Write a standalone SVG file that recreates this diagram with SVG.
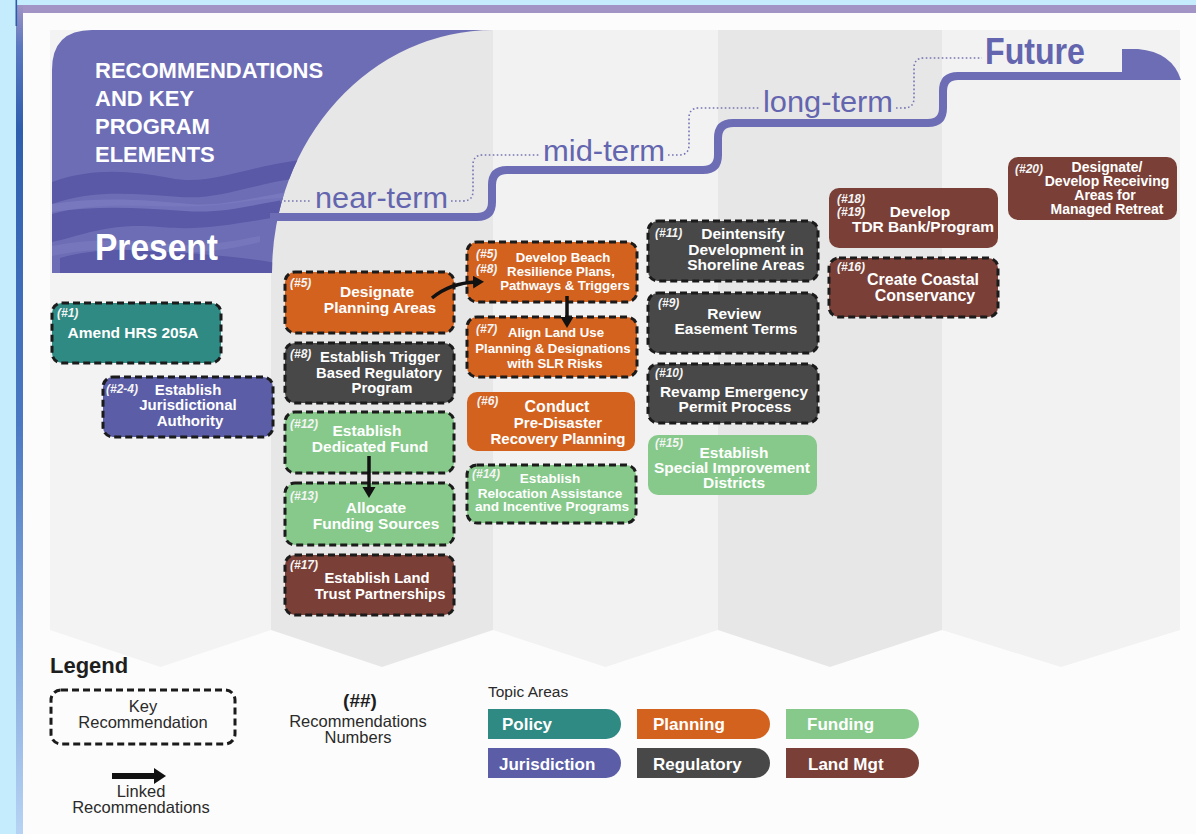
<svg xmlns="http://www.w3.org/2000/svg" width="1196" height="834" viewBox="0 0 1196 834">
<defs>
<linearGradient id="lstrip" x1="0" y1="0" x2="0" y2="1">
<stop offset="0" stop-color="#a094c4"/>
<stop offset="0.05" stop-color="#5a78c0"/>
<stop offset="0.15" stop-color="#2f5eae"/>
<stop offset="0.5" stop-color="#4a78c2"/>
<stop offset="1" stop-color="#b6d3f3"/>
</linearGradient>
<clipPath id="hclip"><path d="M52 70 Q52 30 92 30 H493 A221 243 0 0 0 272 273 H52 Z"/></clipPath>
<marker id="ah" markerWidth="14" markerHeight="14" refX="3" refY="6.5" orient="auto" markerUnits="userSpaceOnUse"><path d="M0,0 L11,6.5 L0,13 Z" fill="#111"/></marker>
<marker id="ahL" markerWidth="18" markerHeight="18" refX="3" refY="8" orient="auto" markerUnits="userSpaceOnUse"><path d="M0,0 L12,8 L0,16 Z" fill="#111"/></marker>
<style>
.f{font-family:"Liberation Sans",Arial,Helvetica,sans-serif}
.nb{font-family:"Liberation Sans",Arial,Helvetica,sans-serif;font-weight:bold;fill:#fff;text-anchor:middle}
.num{font-family:"Liberation Sans",Arial,Helvetica,sans-serif;font-weight:bold;font-style:italic;font-size:12px;fill:#f4f4f4}
.dash{stroke:#1b1b1b;stroke-width:3;stroke-dasharray:7 4}
.teal{fill:#2f8a83}.purp{fill:#5b5da7}.orng{fill:#d3621f}.gray{fill:#484848}.grn{fill:#86c98a}.brn{fill:#7a4037}
.term{font-family:"Liberation Sans",Arial,Helvetica,sans-serif;font-size:30px;fill:#6465af}
.dot{fill:none;stroke:#7676b4;stroke-width:1.6;stroke-dasharray:1.6 2.4}
.lg{font-family:"Liberation Sans",Arial,Helvetica,sans-serif;fill:#2a2a2a;text-anchor:middle;font-size:16.5px}
.pill{font-family:"Liberation Sans",Arial,Helvetica,sans-serif;font-weight:bold;font-size:17px;fill:#fff}
.lnk{stroke:#111;fill:none}
</style>
</defs>

<!-- page background -->
<rect x="0" y="0" width="1196" height="834" fill="#c5ecfc"/>
<rect x="16" y="5" width="1180" height="829" fill="#fcfcfc"/>
<rect x="16" y="5" width="1180" height="8" fill="#a294c4"/>
<rect x="16" y="5" width="7" height="829" fill="url(#lstrip)"/>
<rect x="15.5" y="0" width="1.6" height="26" fill="#2b5cab"/>

<!-- folded columns -->
<g id="columns">
<path d="M50 30 H271 V630 L160.5 667 L50 630 Z" fill="#f3f3f3"/>
<path d="M271 30 H493 V630 L382 667 L271 630 Z" fill="#e7e7e7"/>
<path d="M493 30 H718 V630 L605.5 667 L493 630 Z" fill="#f2f2f2"/>
<path d="M718 30 H942 V630 L830 667 L718 630 Z" fill="#e7e7e7"/>
<path d="M942 30 H1180 V630 L1061 667 L942 630 Z" fill="#f2f2f2"/>
</g>

<!-- header -->
<g id="header">
<path d="M52 70 Q52 30 92 30 H493 A221 243 0 0 0 272 273 H52 Z" fill="#6d6db6"/>
<g clip-path="url(#hclip)">
<path d="M52 182 C90 168 130 170 170 178 C210 186 240 168 300 160 L300 178 C250 184 220 200 180 197 C130 193 90 190 52 204 Z" fill="#5959a7"/>
<path d="M52 214 C100 200 150 208 200 206 C240 204 265 196 300 198 L300 214 C250 220 210 232 160 227 C110 222 80 236 52 242 Z" fill="#5959a7"/>
<path d="M52 204 C100 196 150 200 190 204 C220 207 250 198 300 190 L300 197 C255 204 225 214 185 211 C140 208 100 205 52 212 Z" fill="#7d7dc2" opacity="0.7"/>
<path d="M60 258 C100 246 150 250 200 254 C230 257 255 258 290 266 L290 273 L60 273 Z" fill="#5959a7"/>
<path d="M52 246 C90 238 130 240 170 244 C200 247 230 242 260 236 L260 242 C220 252 190 254 150 251 C110 248 80 250 52 256 Z" fill="#7d7dc2" opacity="0.6"/>
</g>
<text class="f" x="95" y="78" font-size="22" font-weight="bold" fill="#fff">RECOMMENDATIONS</text>
<text class="f" x="95" y="106" font-size="22" font-weight="bold" fill="#fff">AND KEY</text>
<text class="f" x="95" y="134" font-size="22" font-weight="bold" fill="#fff">PROGRAM</text>
<text class="f" x="95" y="162" font-size="22" font-weight="bold" fill="#fff">ELEMENTS</text>
<text class="f" x="95" y="260" font-size="36" font-weight="bold" fill="#fff" textLength="123" lengthAdjust="spacingAndGlyphs">Present</text>
</g>

<!-- timeline -->
<g id="timeline">
<path d="M270 217 H477 Q492 217 492 202 V185 Q492 170 507 170 H703 Q718 170 718 155 V138 Q718 123 733 123 H928 Q943 123 943 108 V91 Q943 76 958 76 H1125" fill="none" stroke="#6d6db6" stroke-width="8"/>
<path d="M1122 80 V49 H1138 Q1172 52 1181 80 Z" fill="#6d6db6"/>
<path class="dot" d="M280 201 H311"/>
<path class="dot" d="M451 201 H463 Q473 201 473 191 V165 Q473 155 483 155 H540"/>
<path class="dot" d="M668 155 H679 Q689 155 689 145 V118 Q689 108 699 108 H760"/>
<path class="dot" d="M896 108 H904 Q914 108 914 98 V68 Q914 58 924 58 H982"/>
<text class="term" x="315" y="208" textLength="133" lengthAdjust="spacingAndGlyphs">near-term</text>
<text class="term" x="543" y="161" textLength="122" lengthAdjust="spacingAndGlyphs">mid-term</text>
<text class="term" x="763" y="112" textLength="130" lengthAdjust="spacingAndGlyphs">long-term</text>
<text class="f" x="985" y="64" font-size="36" font-weight="bold" fill="#6465af" textLength="100" lengthAdjust="spacingAndGlyphs">Future</text>
</g>

<!-- nodes -->
<g id="n1">
<rect class="teal dash" x="52" y="303" width="169" height="60" rx="10"/>
<text class="num" x="57" y="317">(#1)</text>
<text class="nb" x="133" y="338" font-size="15.5">Amend HRS 205A</text>
</g>
<g id="n2-4">
<rect class="purp dash" x="103" y="377" width="170" height="60" rx="10"/>
<text class="num" x="106" y="393">(#2-4)</text>
<text class="nb" x="188" y="395" font-size="15">Establish</text>
<text class="nb" x="188" y="410" font-size="15">Jurisdictional</text>
<text class="nb" x="190" y="426" font-size="15">Authority</text>
</g>
<g id="n5">
<rect class="orng dash" x="285" y="272" width="169" height="61" rx="10"/>
<text class="num" x="290" y="287">(#5)</text>
<text class="nb" x="377" y="297" font-size="15.5">Designate</text>
<text class="nb" x="380" y="313" font-size="15.5">Planning Areas</text>
</g>
<g id="n8">
<rect class="gray dash" x="285" y="343" width="169" height="60" rx="10"/>
<text class="num" x="290" y="358">(#8)</text>
<text class="nb" x="380" y="362" font-size="14.8">Establish Trigger</text>
<text class="nb" x="379" y="378" font-size="14.8">Based Regulatory</text>
<text class="nb" x="382" y="393" font-size="14.8">Program</text>
</g>
<g id="n12">
<rect class="grn dash" x="285" y="412" width="169" height="61" rx="10"/>
<text class="num" x="290" y="428">(#12)</text>
<text class="nb" x="367" y="436" font-size="15.5">Establish</text>
<text class="nb" x="370" y="452" font-size="15.5">Dedicated Fund</text>
</g>
<g id="n13">
<rect class="grn dash" x="285" y="483" width="169" height="62" rx="10"/>
<text class="num" x="290" y="500">(#13)</text>
<text class="nb" x="376" y="513" font-size="15.5">Allocate</text>
<text class="nb" x="376" y="529" font-size="15.5">Funding Sources</text>
</g>
<g id="n17">
<rect class="brn dash" x="285" y="555" width="169" height="60" rx="10"/>
<text class="num" x="290" y="569">(#17)</text>
<text class="nb" x="377" y="583" font-size="14.8">Establish Land</text>
<text class="nb" x="380" y="599" font-size="14.8">Trust Partnerships</text>
</g>
<g id="n5-8">
<rect class="orng dash" x="467" y="242" width="170" height="60" rx="10"/>
<text class="num" x="476" y="258">(#5)</text>
<text class="num" x="476" y="273">(#8)</text>
<text class="nb" x="563" y="262" font-size="13.2">Develop Beach</text>
<text class="nb" x="561" y="276" font-size="13.2">Resilience Plans,</text>
<text class="nb" x="565" y="290" font-size="13.2">Pathways &amp; Triggers</text>
</g>
<g id="n7">
<rect class="orng dash" x="467" y="317" width="170" height="60" rx="10"/>
<text class="num" x="476" y="333">(#7)</text>
<text class="nb" x="556" y="337" font-size="13.2">Align Land Use</text>
<text class="nb" x="553" y="353" font-size="13.2">Planning &amp; Designations</text>
<text class="nb" x="555" y="368" font-size="13.2">with SLR Risks</text>
</g>
<g id="n6">
<rect class="orng" x="467" y="392" width="168" height="59" rx="10"/>
<text class="num" x="477" y="405">(#6)</text>
<text class="nb" x="557" y="412" font-size="16">Conduct</text>
<text class="nb" x="558" y="428" font-size="15">Pre-Disaster</text>
<text class="nb" x="558" y="444" font-size="15">Recovery Planning</text>
</g>
<g id="n14">
<rect class="grn dash" x="467" y="465" width="169" height="58" rx="10"/>
<text class="num" x="472" y="478">(#14)</text>
<text class="nb" x="550" y="483" font-size="13.6">Establish</text>
<text class="nb" x="550" y="498" font-size="13.6">Relocation Assistance</text>
<text class="nb" x="552" y="511" font-size="13.6">and Incentive Programs</text>
</g>
<g id="n11">
<rect class="gray dash" x="648" y="221" width="170" height="60" rx="10"/>
<text class="num" x="655" y="237">(#11)</text>
<text class="nb" x="743" y="239" font-size="15.5">Deintensify</text>
<text class="nb" x="746" y="255" font-size="15.5">Development in</text>
<text class="nb" x="746" y="270" font-size="15.5">Shoreline Areas</text>
</g>
<g id="n9">
<rect class="gray dash" x="648" y="293" width="170" height="60" rx="10"/>
<text class="num" x="658" y="307">(#9)</text>
<text class="nb" x="734" y="319" font-size="15.5">Review</text>
<text class="nb" x="736" y="334" font-size="15.5">Easement Terms</text>
</g>
<g id="n10">
<rect class="gray dash" x="648" y="364" width="170" height="59" rx="10"/>
<text class="num" x="655" y="377">(#10)</text>
<text class="nb" x="734" y="397" font-size="15.5">Revamp Emergency</text>
<text class="nb" x="735" y="412" font-size="15.5">Permit Process</text>
</g>
<g id="n15">
<rect class="grn" x="648" y="435" width="169" height="60" rx="10"/>
<text class="num" x="655" y="447">(#15)</text>
<text class="nb" x="734" y="458" font-size="15.5">Establish</text>
<text class="nb" x="732" y="473" font-size="15.5">Special Improvement</text>
<text class="nb" x="734" y="488" font-size="15.5">Districts</text>
</g>
<g id="n18-19">
<rect class="brn" x="829" y="188" width="169" height="60" rx="10"/>
<text class="num" x="837" y="203">(#18)</text>
<text class="num" x="837" y="216">(#19)</text>
<text class="nb" x="920" y="217" font-size="15.5">Develop</text>
<text class="nb" x="923" y="232" font-size="15.5">TDR Bank/Program</text>
</g>
<g id="n16">
<rect class="brn dash" x="829" y="258" width="169" height="59" rx="10"/>
<text class="num" x="837" y="271">(#16)</text>
<text class="nb" x="923" y="285" font-size="16">Create Coastal</text>
<text class="nb" x="925" y="301" font-size="16">Conservancy</text>
</g>
<g id="n20">
<rect class="brn" x="1008" y="157" width="169" height="63" rx="10"/>
<text class="num" x="1015" y="173">(#20)</text>
<text class="nb" x="1107" y="172" font-size="14">Designate/</text>
<text class="nb" x="1107" y="186" font-size="14">Develop Receiving</text>
<text class="nb" x="1105" y="200" font-size="14">Areas for</text>
<text class="nb" x="1107" y="214" font-size="14">Managed Retreat</text>
</g>

<!-- connectors -->
<g id="connectors">
<path class="lnk" d="M369 456 V490" stroke-width="3.5" marker-end="url(#ah)"/>
<path class="lnk" d="M567 296 V320" stroke-width="3.5" marker-end="url(#ah)"/>
<path class="lnk" d="M432 298 Q450 283 476 282" stroke-width="3.5" marker-end="url(#ah)"/>
</g>

<!-- legend -->
<g id="legend">
<text class="f" x="50" y="673" font-size="22" font-weight="bold" fill="#1e1e1e">Legend</text>
<rect x="51" y="690" width="184" height="54" rx="10" fill="none" class="dash"/>
<text class="lg" x="143" y="712">Key</text>
<text class="lg" x="143" y="728">Recommendation</text>
<text class="f" x="360" y="707" font-size="19" font-weight="bold" fill="#1e1e1e" text-anchor="middle">(##)</text>
<text class="lg" x="358" y="727">Recommendations</text>
<text class="lg" x="358" y="743">Numbers</text>
<path class="lnk" d="M112 776 H157" stroke-width="6" marker-end="url(#ahL)"/>
<text class="lg" x="141" y="797">Linked</text>
<text class="lg" x="141" y="813">Recommendations</text>
<text class="f" x="488" y="697" font-size="15.5" fill="#2a2a2a">Topic Areas</text>
<path class="teal" d="M488 709 H606 A15 15 0 0 1 621 724 A15 15 0 0 1 606 739 H488 Z"/>
<path class="orng" d="M637 709 H755 A15 15 0 0 1 770 724 A15 15 0 0 1 755 739 H637 Z"/>
<path class="grn" d="M786 709 H904 A15 15 0 0 1 919 724 A15 15 0 0 1 904 739 H786 Z"/>
<path class="purp" d="M488 748 H606 A15 15 0 0 1 621 763 A15 15 0 0 1 606 778 H488 Z"/>
<path class="gray" d="M637 748 H755 A15 15 0 0 1 770 763 A15 15 0 0 1 755 778 H637 Z"/>
<path class="brn" d="M786 748 H904 A15 15 0 0 1 919 763 A15 15 0 0 1 904 778 H786 Z"/>
<text class="pill" x="502" y="730">Policy</text>
<text class="pill" x="653" y="730">Planning</text>
<text class="pill" x="807" y="730">Funding</text>
<text class="pill" x="499" y="770">Jurisdiction</text>
<text class="pill" x="653" y="770">Regulatory</text>
<text class="pill" x="808" y="770">Land Mgt</text>
</g>
</svg>
